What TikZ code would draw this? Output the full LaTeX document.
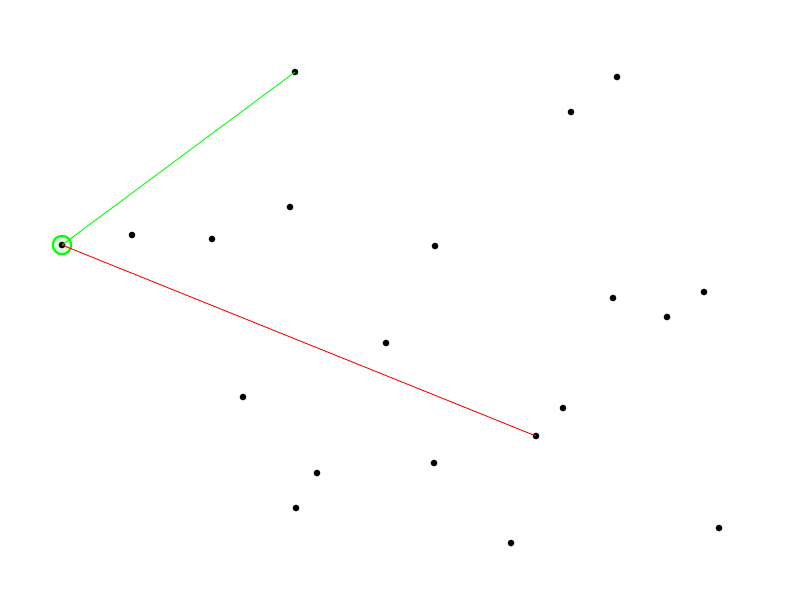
\documentclass[tikz,border=0pt]{standalone}
\usepackage{tikz}
\usetikzlibrary{positioning}

\begin{document}
\begin{tikzpicture}[
  x=0.02cm, y=-0.02cm,
  pt/.style={circle, fill=black, inner sep=0pt, minimum size=3.8pt},
  near/.style={draw=green, line width=0.5pt},
  far/.style={draw=red, line width=0.5pt},
  ring/.style={circle, draw=green, line width=1.2pt, fill=green!15, inner sep=0pt, minimum size=10.5pt}
]
\useasboundingbox (0,0) rectangle (800,600);

% -- start point ring ------------------------------------------------------
\node[ring] (start) at (62,245) {};

% -- points ----------------------------------------------------------------
\node[pt] (p1)  at (62,245)  {};
\node[pt] (p2)  at (295,72)  {};
\node[pt] (p3)  at (617,77)  {};
\node[pt] (p4)  at (571,112) {};
\node[pt] (p5)  at (290,207) {};
\node[pt] (p6)  at (132,235) {};
\node[pt] (p7)  at (212,239) {};
\node[pt] (p8)  at (435,246) {};
\node[pt] (p9)  at (613,298) {};
\node[pt] (p10) at (704,292) {};
\node[pt] (p11) at (667,317) {};
\node[pt] (p12) at (386,343) {};
\node[pt] (p13) at (243,397) {};
\node[pt] (p14) at (563,408) {};
\node[pt] (p15) at (536,436) {};
\node[pt] (p16) at (434,463) {};
\node[pt] (p17) at (317,473) {};
\node[pt] (p18) at (296,508) {};
\node[pt] (p19) at (511,543) {};
\node[pt] (p20) at (719,528) {};

% -- connectors ------------------------------------------------------------
\draw[near] (p1.center) -- (p2.center);
\draw[far]  (p1.center) -- (p15.center);

\end{tikzpicture}
\end{document}
